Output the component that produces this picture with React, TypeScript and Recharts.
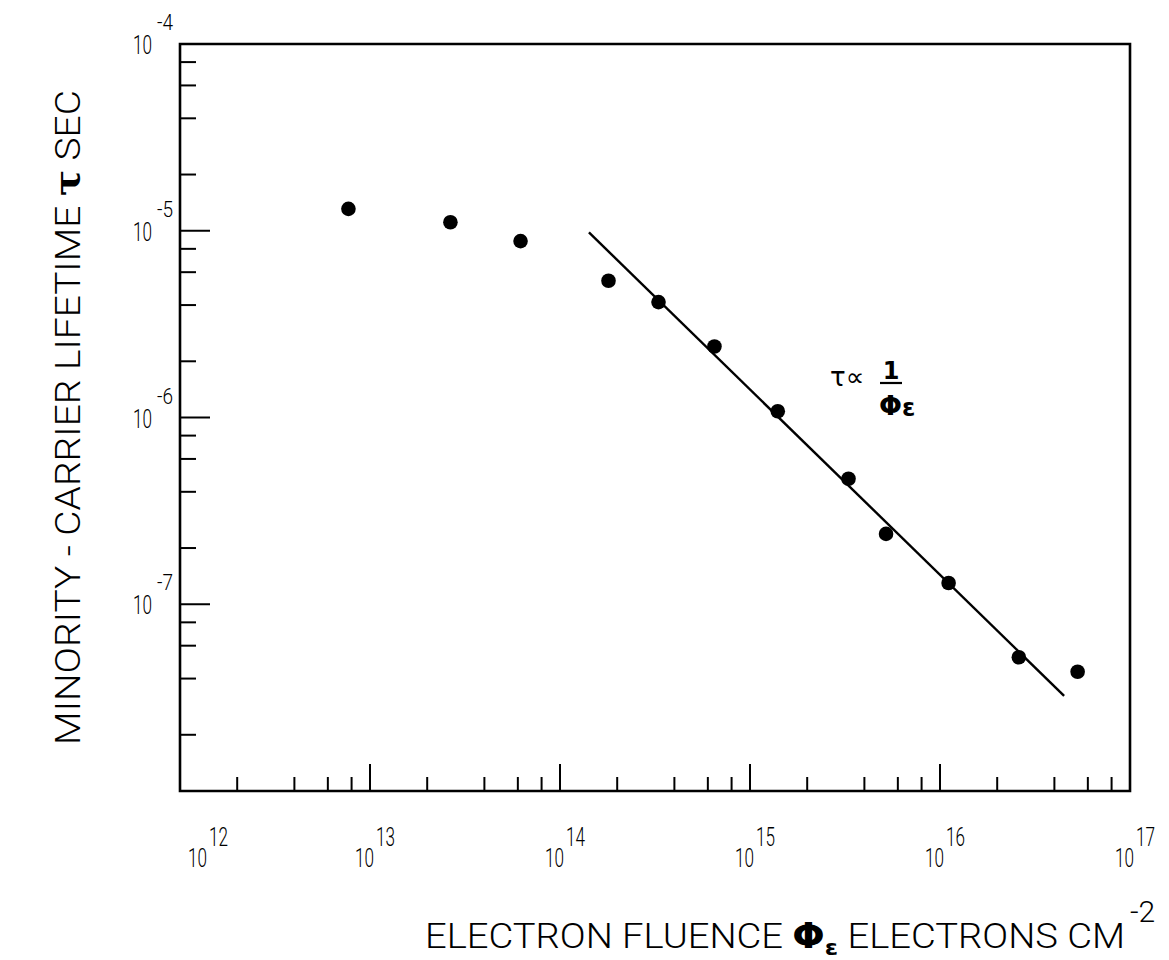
import React from "react";
import {
  ReferenceArea,
  ReferenceLine,
  Scatter,
  ScatterChart,
  XAxis,
  YAxis,
} from "recharts";

// measured points: electron fluence (cm^-2) vs minority-carrier lifetime (s)
const fluence = [
  7.7e12, 2.65e13, 6.2e13, 1.8e14, 3.3e14, 6.5e14, 1.4e15, 3.3e15, 5.2e15,
  1.11e16, 2.6e16, 5.3e16,
];
const lifetime = [
  1.31e-5, 1.11e-5, 8.8e-6, 5.4e-6, 4.15e-6, 2.4e-6, 1.08e-6, 4.7e-7, 2.38e-7,
  1.3e-7, 5.2e-8, 4.35e-8,
];

// hand-drawn fit, tau ∝ 1/phi
const fitStart = { x: 1.42e14, y: 9.8e-6 };
const fitEnd = { x: 4.5e16, y: 3.23e-8 };

const xDecades = [12, 13, 14, 15, 16, 17];
const yDecades = [-8, -7, -6, -5, -4];
const yLabelled = [-7, -6, -5, -4];
const minorSteps = [2, 4, 6, 8];

const X_MIN = 1e12;
const X_MAX = 1e17;
const Y_MIN = 1e-8;
const Y_MAX = 1e-4;

const FONT = 'Roboto, "Liberation Sans", sans-serif';
const INK = "#000";

function ticksFor(decades: number[]) {
  const out: number[] = [];
  decades.forEach((d, i) => {
    out.push(Math.pow(10, d));
    if (i < decades.length - 1) minorSteps.forEach((m) => out.push(m * Math.pow(10, d)));
  });
  return out;
}

function isMajor(v: number) {
  const l = Math.log10(v);
  return Math.abs(l - Math.round(l)) < 1e-6;
}

const points = fluence.map((x, i) => ({ x, y: lifetime[i] }));

function XTick(props: any) {
  const { x, y, payload } = props;
  const v = payload.value as number;
  const major = isMajor(v);
  const exp = Math.round(Math.log10(v));
  const lx = exp === 12 ? x + 8 : x - 15;
  return (
    <g>
      <line x1={x} y1={y} x2={x} y2={y - (major ? 27 : 14)} stroke="#000" strokeWidth={2} />
      {major && (
        <g fontFamily={FONT} fontWeight={300} fill={INK}>
          <text x={lx} y={y + 76} fontSize={26} textLength={19} lengthAdjust="spacingAndGlyphs">
            10
          </text>
          <text x={lx + 21} y={y + 55} fontSize={26} textLength={19} lengthAdjust="spacingAndGlyphs">
            {exp}
          </text>
        </g>
      )}
    </g>
  );
}

function YTick(props: any) {
  const { x, y, payload } = props;
  const v = payload.value as number;
  const major = isMajor(v);
  const exp = Math.round(Math.log10(v));
  return (
    <g>
      <line x1={x} y1={y} x2={x + (major ? 30 : 16)} y2={y} stroke="#000" strokeWidth={2} />
      {major && yLabelled.includes(exp) && (
        <g fontFamily={FONT} fontWeight={300} fill={INK}>
          <text x={x - 47} y={y + 10} fontSize={26} textLength={19} lengthAdjust="spacingAndGlyphs">
            10
          </text>
          <text x={x - 23} y={y - 14} fontSize={22} textLength={16} lengthAdjust="spacingAndGlyphs">
            {"-" + Math.abs(exp)}
          </text>
        </g>
      )}
    </g>
  );
}

function Dot(props: any) {
  const { cx, cy } = props;
  return <circle cx={cx} cy={cy} r={7.3} fill="#000" />;
}

export default function App() {
  return (
    <div style={{ position: "absolute", left: 0, top: 0, width: 1169, height: 960, background: "#fff" }}>
      <ScatterChart
        width={1169}
        height={960}
        margin={{ top: 44, right: 39, bottom: 109, left: 100 }}
      >
        <XAxis
          type="number"
          dataKey="x"
          scale="log"
          domain={[X_MIN, X_MAX]}
          ticks={ticksFor(xDecades)}
          interval={0}
          tick={<XTick />}
          tickSize={0}
          tickMargin={0}
          tickLine={false}
          axisLine={false}
          height={60}
          allowDataOverflow
        />
        <YAxis
          type="number"
          dataKey="y"
          scale="log"
          domain={[Y_MIN, Y_MAX]}
          ticks={ticksFor(yDecades)}
          interval={0}
          tick={<YTick />}
          tickSize={0}
          tickMargin={0}
          tickLine={false}
          axisLine={false}
          width={80}
          allowDataOverflow
        />
        <ReferenceArea
          x1={X_MIN}
          x2={X_MAX}
          y1={Y_MIN}
          y2={Y_MAX}
          fill="none"
          fillOpacity={0}
          stroke="#000"
          strokeWidth={2.6}
        />
        <ReferenceLine segment={[fitStart, fitEnd]} stroke="#000" strokeWidth={2.4} />
        <Scatter data={points} shape={<Dot />} isAnimationActive={false} />
      </ScatterChart>

      <svg
        width={1169}
        height={960}
        style={{ position: "absolute", left: 0, top: 0, pointerEvents: "none" }}
      >
        {/* y title */}
        <text
          transform="translate(80 745) rotate(-90)"
          fontFamily={FONT}
          fontWeight={300}
          fontSize={35}
          fill={INK}
          textLength={655}
          lengthAdjust="spacingAndGlyphs"
        >
          MINORITY - CARRIER LIFETIME <tspan fontWeight="bold" fontFamily="DejaVu Serif, serif">τ</tspan> SEC
        </text>

        {/* x title */}
        <text
          x={425}
          y={948}
          fontFamily={FONT}
          fontWeight={300}
          fontSize={35}
          fill={INK}
          textLength={700}
          lengthAdjust="spacingAndGlyphs"
        >
          ELECTRON FLUENCE <tspan fontWeight="bold" fontFamily="DejaVu Sans, sans-serif">Φ</tspan>
          <tspan fontWeight="bold" fontSize={22} dy={7} fontFamily="DejaVu Sans, sans-serif">ε</tspan>
          <tspan dy={-7}> ELECTRONS CM</tspan>
        </text>
        <text x={1130} y={922} fontFamily={FONT} fontWeight={300} fontSize={30} fill={INK}>
          -2
        </text>

        {/* annotation */}
        <text x={830} y={386} fontFamily="DejaVu Sans, sans-serif" fontSize={26} fill={INK}>
          τ∝
        </text>
        <text x={891} y={379} textAnchor="middle" fontFamily="DejaVu Sans, sans-serif" fontWeight="bold" fontSize={24} fill={INK}>
          1
        </text>
        <line x1={880} y1={383} x2={902} y2={383} stroke={INK} strokeWidth={2.2} />
        <text x={879} y={415} fontFamily="DejaVu Sans, sans-serif" fontWeight="bold" fontSize={27} fill={INK}>
          Φ<tspan fontSize={24} dy={1}>ε</tspan>
        </text>
      </svg>
    </div>
  );
}
